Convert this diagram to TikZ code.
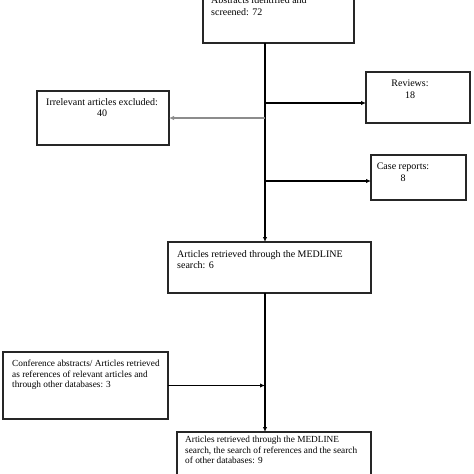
\documentclass[tikz,border=0pt]{standalone}
\usepackage{fontspec}
\setmainfont{Liberation Serif}
\usetikzlibrary{arrows.meta}
\begin{document}
\begin{tikzpicture}[x=1pt,y=-1pt,
  boxn/.style={draw=black!85,line width=1.4pt,rectangle,inner sep=0pt,outer sep=0pt,anchor=north west},
  txt/.style={inner sep=0pt,font=\fontsize{10}{11.5}\selectfont,align=left,anchor=north west},
  txts/.style={txt,font=\fontsize{9.3}{10.6}\selectfont},
  arr/.style={draw=black,line width=1.1pt,-{Latex[length=5pt,width=4.5pt]}},
  garr/.style={arr,draw=black!45}]
\useasboundingbox (0,0) rectangle (474,474);
% boxes
\node[boxn,minimum width=151pt,minimum height=70pt] (top) at (203,-27) {};
\node[boxn,minimum width=104pt,minimum height=51pt] (rev) at (366,72) {};
\node[boxn,minimum width=132pt,minimum height=54pt] (irr) at (37,91) {};
\node[boxn,minimum width=95pt,minimum height=45pt] (cas) at (371,155) {};
\node[boxn,minimum width=203pt,minimum height=51pt] (med) at (168,242) {};
\node[boxn,minimum width=165pt,minimum height=67pt] (con) at (3,352) {};
\node[boxn,minimum width=194pt,minimum height=60pt] (fin) at (177,432) {};
% texts
\node[txt] (ttop) at (211,-3.5) {Abstracts identified and\\screened: 72};
\node[txt,align=center,anchor=north] (trev) at (410,80) {Reviews:\\18};
\node[txt,align=center,anchor=north] (tirr) at (102,98) {Irrelevant articles excluded:\\40};
\node[txt,align=center,anchor=north] (tcas) at (403,163) {Case reports:\\8};
\node[txt] (tmed) at (177,250) {Articles retrieved through the MEDLINE\\search: 6};
\node[txts] (tcon) at (12,360) {Conference abstracts/ Articles retrieved\\as references of relevant articles and\\through other databases: 3};
\node[txts] (tfin) at (185,436) {Articles retrieved through the MEDLINE\\search, the search of references and the search\\of other databases: 9};
% spine coordinates
\coordinate (sa) at (265,103);
\coordinate (sb) at (265,118);
\coordinate (sc) at (265,181);
\draw[arr] (top.south -| sa) -- (med.north -| sa);
\draw[arr] (sa) -- (rev.west |- sa);
\draw[garr] (sb) -- (irr.east);
\draw[arr] (sc) -- (cas.west |- sc);
\draw[arr] (med.south -| sa) -- (fin.north -| sa);
\draw[arr] (con.east) -- (con.east -| sa);
\end{tikzpicture}
\end{document}
